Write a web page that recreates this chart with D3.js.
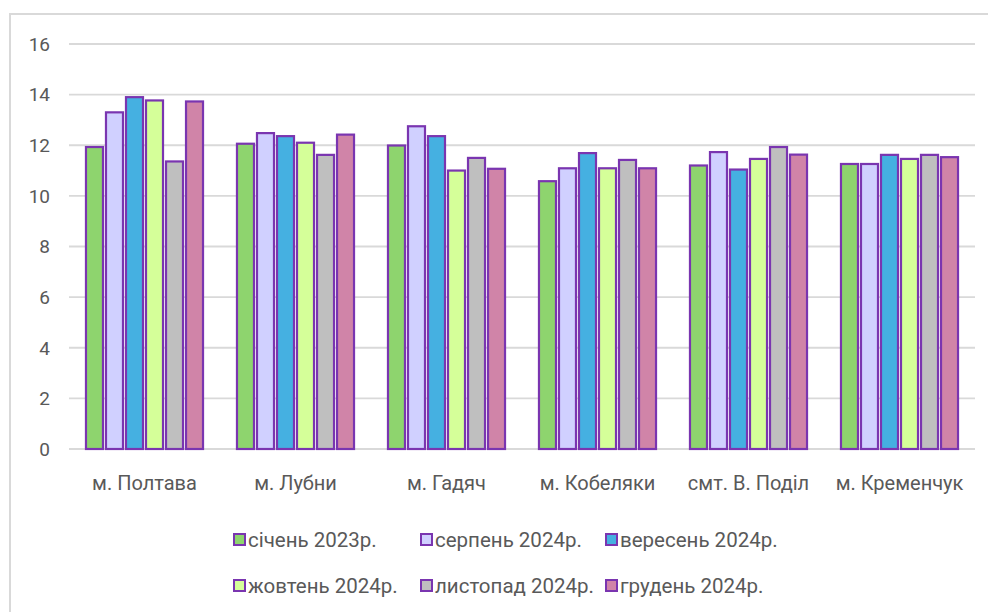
<!DOCTYPE html>
<html lang="uk">
<head>
<meta charset="UTF-8">
<title>Chart</title>
<script src="https://d3js.org/d3.v7.min.js"></script>
<style>
  html, body { margin: 0; padding: 0; background: #fff; }
  svg text { font-family: "Roboto", "Liberation Sans", sans-serif; fill: #595959; }
</style>
</head>
<body>
<div id="chart"></div>
<script>
// data
const categories = ["м. Полтава", "м. Лубни", "м. Гадяч", "м. Кобеляки", "смт. В. Поділ", "м. Кременчук"];
const seriesNames = ["січень 2023р.", "серпень 2024р.", "вересень 2024р.", "жовтень 2024р.", "листопад 2024р.", "грудень 2024р."];
const seriesColors = ["#8ed46e", "#d0d0ff", "#45b0e1", "#d5ff99", "#bfbfbf", "#d084a8"];
const sichen2023   = [11.93, 12.06, 11.99, 10.58, 11.20, 11.26];
const serpen2024   = [13.30, 12.48, 12.75, 11.09, 11.73, 11.26];
const veresen2024  = [13.90, 12.36, 12.36, 11.69, 11.04, 11.62];
const zhovten2024  = [13.77, 12.10, 11.00, 11.09, 11.46, 11.46];
const lystopad2024 = [11.36, 11.62, 11.50, 11.42, 11.93, 11.62];
const hruden2024   = [13.73, 12.42, 11.07, 11.09, 11.63, 11.53];
const yTicks = [0, 2, 4, 6, 8, 10, 12, 14, 16];

const seriesValues = [sichen2023, serpen2024, veresen2024, zhovten2024, lystopad2024, hruden2024];

const W = 988, H = 612;
const svg = d3.select("#chart").append("svg")
    .attr("width", W).attr("height", H);

// outer frame (clipped on right/bottom in the source)
svg.append("rect")
    .attr("x", 10).attr("y", 14)
    .attr("width", 1000).attr("height", 620)
    .attr("fill", "none")
    .attr("stroke", "#d9d9d9")
    .attr("stroke-width", 2);

const x0 = d3.scaleBand()
    .domain(categories)
    .range([69, 975])
    .paddingInner(0.205)
    .paddingOuter(0.1025);

const x1 = d3.scaleBand()
    .domain(seriesNames)
    .range([0, x0.bandwidth()])
    .paddingInner(0.15)
    .paddingOuter(0.075);

const y = d3.scaleLinear()
    .domain([0, 16])
    .range([449, 44]);

// gridlines
svg.append("g")
    .selectAll("line")
    .data(yTicks)
    .join("line")
    .attr("x1", 69).attr("x2", 975)
    .attr("y1", d => y(d)).attr("y2", d => y(d))
    .attr("stroke", "#d9d9d9")
    .attr("stroke-width", 1.8);

// y tick labels
svg.append("g")
    .selectAll("text")
    .data(yTicks)
    .join("text")
    .attr("x", 50)
    .attr("y", d => y(d))
    .attr("dy", "0.36em")
    .attr("text-anchor", "end")
    .style("font-size", "19px")
    .text(d => d);

// bars
const groups = svg.append("g")
    .selectAll("g")
    .data(categories)
    .join("g")
    .attr("transform", d => `translate(${x0(d)},0)`);

groups.selectAll("rect")
    .data((c, ci) => seriesNames.map((s, si) => ({ s, si, v: seriesValues[si][ci] })))
    .join("rect")
    .attr("x", d => x1(d.s))
    .attr("y", d => y(d.v))
    .attr("width", x1.bandwidth())
    .attr("height", d => y(0) - y(d.v))
    .attr("fill", d => seriesColors[d.si])
    .attr("stroke", "#7a35b0")
    .attr("stroke-width", 2.2);

// category labels
svg.append("g")
    .selectAll("text")
    .data(categories)
    .join("text")
    .attr("x", d => x0(d) + x0.bandwidth() / 2)
    .attr("y", 490)
    .attr("text-anchor", "middle")
    .style("font-size", "20px")
    .text(d => d);

// legend: 3 columns x 2 rows
const legCols = [233, 420, 605];
const legRows = [540, 586];
const legend = svg.append("g")
    .selectAll("g")
    .data(seriesNames)
    .join("g")
    .attr("transform", (d, i) => `translate(${legCols[i % 3]},${legRows[Math.floor(i / 3)]})`);

legend.append("rect")
    .attr("x", 1).attr("y", -6)
    .attr("width", 11).attr("height", 11)
    .attr("fill", (d, i) => seriesColors[i])
    .attr("stroke", "#7a35b0")
    .attr("stroke-width", 2);

legend.append("text")
    .attr("x", 15)
    .attr("y", 0)
    .attr("dy", "0.36em")
    .style("font-size", "20.5px")
    .text(d => d);
</script>
</body>
</html>
